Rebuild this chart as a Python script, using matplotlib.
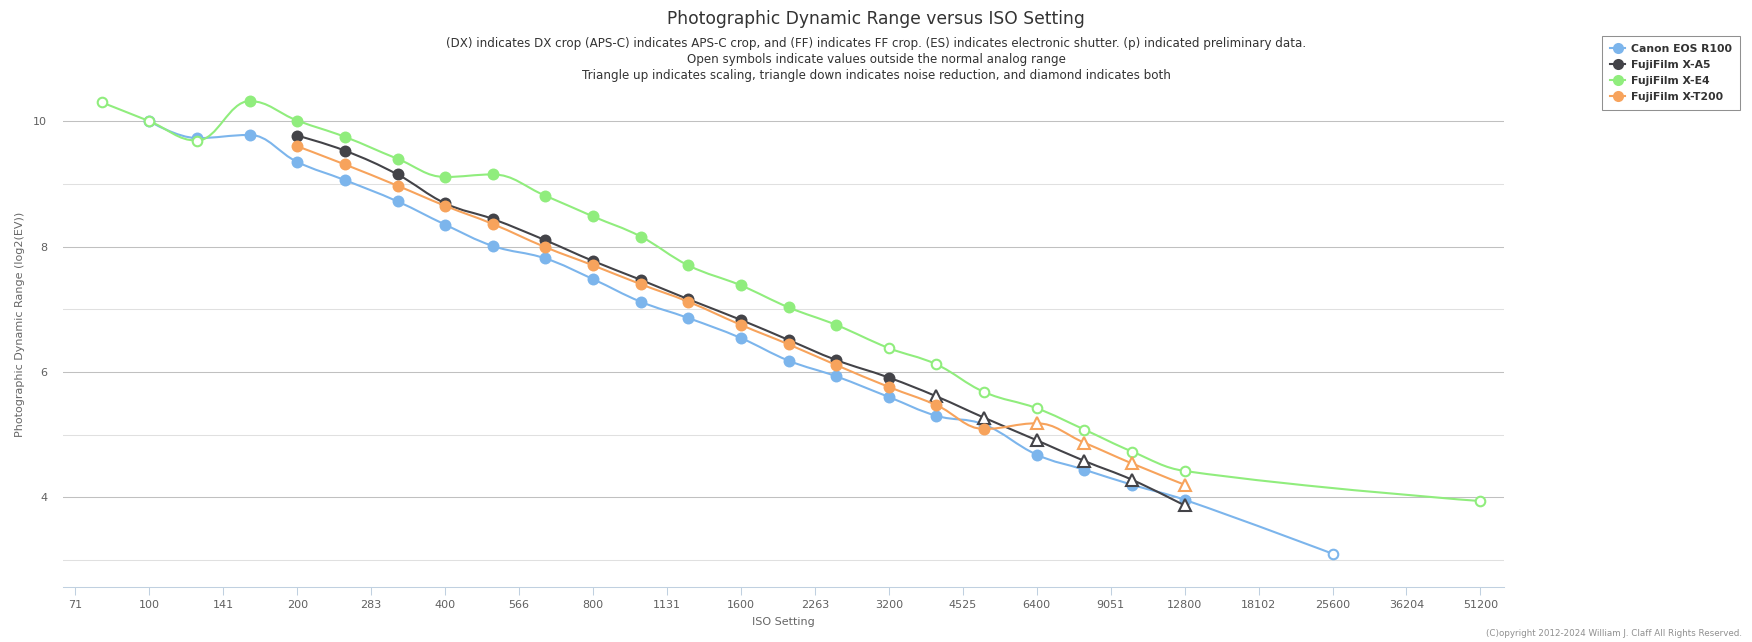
import matplotlib
matplotlib.use("Agg")
import matplotlib.pyplot as plt
import numpy as np
from matplotlib.path import Path
from matplotlib.patches import PathPatch
from matplotlib.lines import Line2D

# ---------------------------------------------------------------
# Data (photographic dynamic range, log2 EV)
# kind: n = normal, x = outside normal analog range, s = scaling
# ---------------------------------------------------------------
canon_iso = [100, 125, 160, 200, 250, 320, 400, 500, 640, 800, 1000, 1250,
             1600, 2000, 2500, 3200, 4000, 5000, 6400, 8000, 10000, 12800, 25600]
canon_dr = [10.00, 9.73, 9.78, 9.35, 9.06, 8.72, 8.35, 8.01, 7.81, 7.48, 7.12, 6.86,
            6.54, 6.18, 5.93, 5.60, 5.30, 5.16, 4.68, 4.44, 4.20, 3.96, 3.10]
canon_kind = "nnnnnnnnnnnnnnnnnnnnnnx"

xa5_iso = [200, 250, 320, 400, 500, 640, 800, 1000, 1250, 1600, 2000, 2500,
           3200, 4000, 5000, 6400, 8000, 10000, 12800]
xa5_dr = [9.77, 9.53, 9.15, 8.69, 8.44, 8.10, 7.77, 7.47, 7.16, 6.83, 6.51, 6.19,
          5.91, 5.61, 5.27, 4.91, 4.58, 4.28, 3.87]
xa5_kind = "nnnnnnnnnnnnnssssss"

xe4_iso = [80, 100, 125, 160, 200, 250, 320, 400, 500, 640, 800, 1000, 1250,
           1600, 2000, 2500, 3200, 4000, 5000, 6400, 8000, 10000, 12800, 51200]
xe4_dr = [10.30, 10.00, 9.69, 10.32, 10.01, 9.75, 9.40, 9.11, 9.15, 8.81, 8.48, 8.16, 7.70,
          7.38, 7.03, 6.75, 6.38, 6.12, 5.68, 5.42, 5.08, 4.73, 4.42, 3.94]
xe4_kind = "xxxnnnnnnnnnnnnnxxxxxxxx"

xt200_iso = [200, 250, 320, 400, 500, 640, 800, 1000, 1250, 1600, 2000, 2500,
             3200, 4000, 5000, 6400, 8000, 10000, 12800]
xt200_dr = [9.60, 9.31, 8.97, 8.65, 8.36, 7.99, 7.70, 7.40, 7.12, 6.75, 6.44, 6.11,
            5.76, 5.47, 5.09, 5.18, 4.87, 4.54, 4.20]
xt200_kind = "nnnnnnnnnnnnnnnssss"

names = ["Canon EOS R100", "FujiFilm X-A5", "FujiFilm X-E4", "FujiFilm X-T200"]
colors = ["#7cb5ec", "#434348", "#90ed7d", "#f7a35c"]
series = [(canon_iso, canon_dr, canon_kind), (xa5_iso, xa5_dr, xa5_kind),
          (xe4_iso, xe4_dr, xe4_kind), (xt200_iso, xt200_dr, xt200_kind)]

W, H = 1752, 642


def spline_path(xs, ys):
    # same smoothing rule as a highcharts "spline" series
    smoothing = 1.5
    denom = smoothing + 1
    n = len(xs)
    left = [None] * n
    right = [None] * n
    for i in range(1, n - 1):
        x, y = xs[i], ys[i]
        lx, ly = xs[i - 1], ys[i - 1]
        nx, ny = xs[i + 1], ys[i + 1]
        lcx = (smoothing * x + lx) / denom
        lcy = (smoothing * y + ly) / denom
        rcx = (smoothing * x + nx) / denom
        rcy = (smoothing * y + ny) / denom
        corr = 0
        if rcx != lcx:
            corr = (rcy - lcy) * (rcx - x) / (rcx - lcx) + y - rcy
        lcy += corr
        rcy += corr
        if lcy > ly and lcy > y:
            lcy = max(ly, y)
            rcy = 2 * y - lcy
        elif lcy < ly and lcy < y:
            lcy = min(ly, y)
            rcy = 2 * y - lcy
        if rcy > ny and rcy > y:
            rcy = max(ny, y)
            lcy = 2 * y - rcy
        elif rcy < ny and rcy < y:
            rcy = min(ny, y)
            lcy = 2 * y - rcy
        left[i] = (lcx, lcy)
        right[i] = (rcx, rcy)
    verts = [(xs[0], ys[0])]
    codes = [Path.MOVETO]
    for i in range(1, n):
        verts.append(right[i - 1] or (xs[i - 1], ys[i - 1]))
        verts.append(left[i] or (xs[i], ys[i]))
        verts.append((xs[i], ys[i]))
        codes += [Path.CURVE4] * 3
    return Path(verts, codes)


fig = plt.figure(figsize=(W / 100, H / 100), dpi=100)
left_px, right_px, top_px, bottom_px = 62.5, 1503.8, 61, 587.3
ax = fig.add_axes([left_px / W, 1 - bottom_px / H,
                   (right_px - left_px) / W, (bottom_px - top_px) / H])

ax.set_xlim(-0.587, 9.158)
ax.set_ylim(2.564, 10.96)

# horizontal grid
for v in range(3, 11):
    ax.axhline(v, color="#C0C0C0" if v % 2 == 0 else "#E0E0E0", lw=0.75, zorder=0)

for k, ((iso, dr, kind), c) in enumerate(zip(series, colors)):
    xs = list(np.log2(np.array(iso) / 100.0))
    ax.add_patch(PathPatch(spline_path(xs, dr), fill=False, edgecolor=c,
                           lw=1.5, zorder=3 + 2 * k, capstyle="round", joinstyle="round"))
    xs = np.array(xs)
    dr = np.array(dr)
    kind = np.array(list(kind))
    m = kind == "n"
    ax.plot(xs[m], dr[m], ls="none", marker="o", ms=8.6, mfc=c, mew=0, zorder=4 + 2 * k)
    m = kind == "x"
    ax.plot(xs[m], dr[m], ls="none", marker="o", ms=6.9, mfc="white", mec=c, mew=1.5,
            zorder=4 + 2 * k)
    m = kind == "s"
    ax.plot(xs[m], dr[m], ls="none", marker="^", ms=8.4, mfc="white", mec=c, mew=1.5,
            zorder=4 + 2 * k)

xt = np.arange(-0.5, 9.01, 0.5)
ax.set_xticks(xt)
ax.set_xticklabels([str(int(round(100 * 2 ** t))) for t in xt])
ax.set_yticks([4, 6, 8, 10])
ax.set_yticklabels(["4", "6", "8", "10"])
ax.tick_params(axis="x", direction="out", length=6, width=0.75, color="#C0D0E0",
               labelcolor="#606060", labelsize=8, pad=3)
ax.tick_params(axis="y", length=0, labelcolor="#606060", labelsize=8, pad=11)
for s in ["top", "right", "left"]:
    ax.spines[s].set_visible(False)
ax.spines["bottom"].set_color("#C0D0E0")
ax.spines["bottom"].set_linewidth(0.75)

fig.text(0.5, 1 - 19.5 / H, "Photographic Dynamic Range versus ISO Setting",
         ha="center", va="center", fontsize=12.3, color="#333333")
subs = ["(DX) indicates DX crop (APS-C) indicates APS-C crop, and (FF) indicates FF crop. "
        "(ES) indicates electronic shutter. (p) indicated preliminary data.",
        "Open symbols indicate values outside the normal analog range",
        "Triangle up indicates scaling, triangle down indicates noise reduction, and diamond indicates both"]
for i, s in enumerate(subs):
    fig.text(0.5, 1 - (43.5 + 16 * i) / H, s, ha="center", va="center", fontsize=8.6,
             color="#333333")

fig.text(20 / W, 1 - 324 / H, "Photographic Dynamic Range (log2(EV))", rotation=90,
         ha="center", va="center", fontsize=8, color="#666666")
fig.text((left_px + right_px) / 2 / W, 1 - 622 / H, "ISO Setting", ha="center",
         va="center", fontsize=8, color="#666666")
fig.text(1742 / W, 1 - 634 / H,
         "(C)opyright 2012-2024 William J. Claff All Rights Reserved.",
         ha="right", va="center", fontsize=6.3, color="#909090")

handles = [Line2D([], [], color=c, lw=1.5, marker="o", ms=8, mew=0) for c in colors]
leg = fig.legend(handles, names, loc="upper right",
                 bbox_to_anchor=(1740 / W, 1 - 36 / H), bbox_transform=fig.transFigure,
                 borderaxespad=0, fancybox=False, edgecolor="#909090", framealpha=1,
                 prop={"weight": "bold", "size": 7.85}, handlelength=1.4,
                 handletextpad=0.5, labelspacing=0.55, borderpad=0.75)
leg.get_frame().set_linewidth(0.75)
for t in leg.get_texts():
    t.set_color("#333333")

fig.savefig("out.png", dpi=100)
